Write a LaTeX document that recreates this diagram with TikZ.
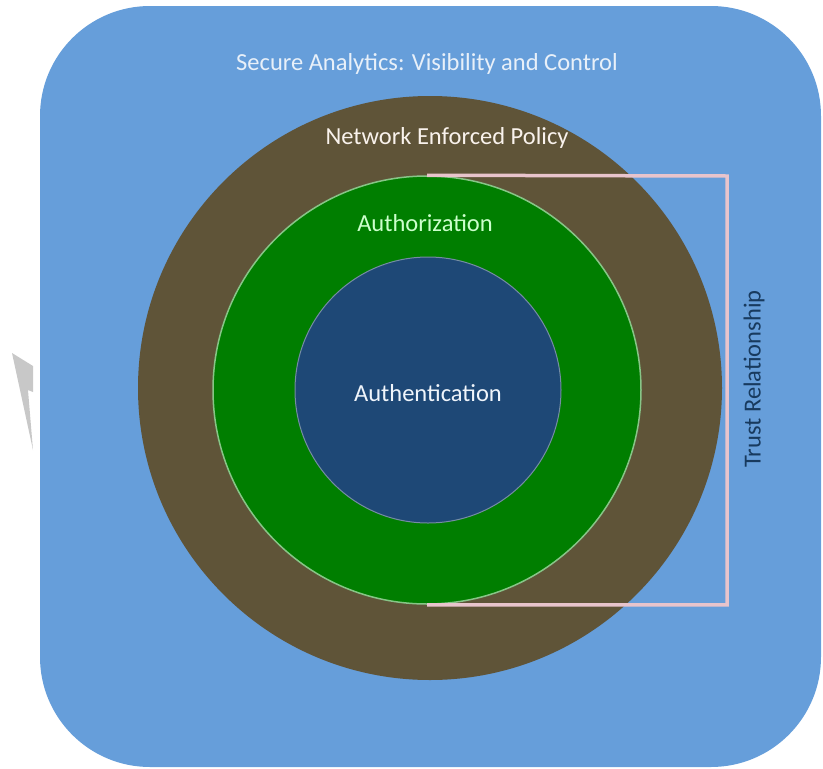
\documentclass[tikz,border=0pt]{standalone}
\usepackage{fontspec}
\setmainfont{Carlito}
\usepackage{tikz}
\usetikzlibrary{positioning, calc}
\definecolor{areablue}{RGB}{102,158,218}
\definecolor{policybrown}{RGB}{95,84,56}
\definecolor{authzgreen}{RGB}{0,126,0}
\definecolor{authnblue}{RGB}{30,72,118}
\definecolor{trustpink}{RGB}{232,196,204}
\definecolor{wmgray}{RGB}{200,200,200}

\begin{document}
\begin{tikzpicture}[
    x=1pt, y=-1pt,
    ring/.style={circle, inner sep=0pt},
    ringlabel/.style={font=\fontsize{24.5}{29}\selectfont, inner sep=0pt}
]
\useasboundingbox (0,0) rectangle (823,769);
% watermark fragment
\fill[wmgray] (12,353) -- (33,366) -- (33,392) -- (28,390) -- (33,450) -- cycle;
% outer area
\fill[areablue, rounded corners=110pt] (40,6) rectangle (821,767);
\node[ringlabel, text=white!85!areablue] (analytics) at (427,64)
    {Secure Analytics: Visibility and Control};
% rings
\node[ring, fill=policybrown, minimum size=584pt] (policy) at (430,388) {};
\node[ring, fill=authzgreen, draw=green!35!gray!70!white, line width=1.5pt,
      minimum size=428pt] (authz) at (427,390) {};
\node[ring, fill=authnblue, draw=gray!60!areablue, line width=1pt,
      minimum size=266pt] (authn) at (428,390) {};
\node[ringlabel, text=white!90!brown] (policylbl) at (447,138) {Network Enforced Policy};
\node[ringlabel, text=green!20!white] (authzlbl) at (425,223) {Authorization};
\node[ringlabel, text=white!90!areablue] (authnlbl) at (428,393) {Authentication};
% trust bracket
\coordinate (trusttop) at (727,176);
\draw[trustpink, line width=3.5pt] (authz.north) -- (trusttop) |- (authz.south);
\node[ringlabel, text=authnblue!80!black, rotate=90] (trustlbl) at (754,379)
    {Trust Relationship};
\end{tikzpicture}
\end{document}
